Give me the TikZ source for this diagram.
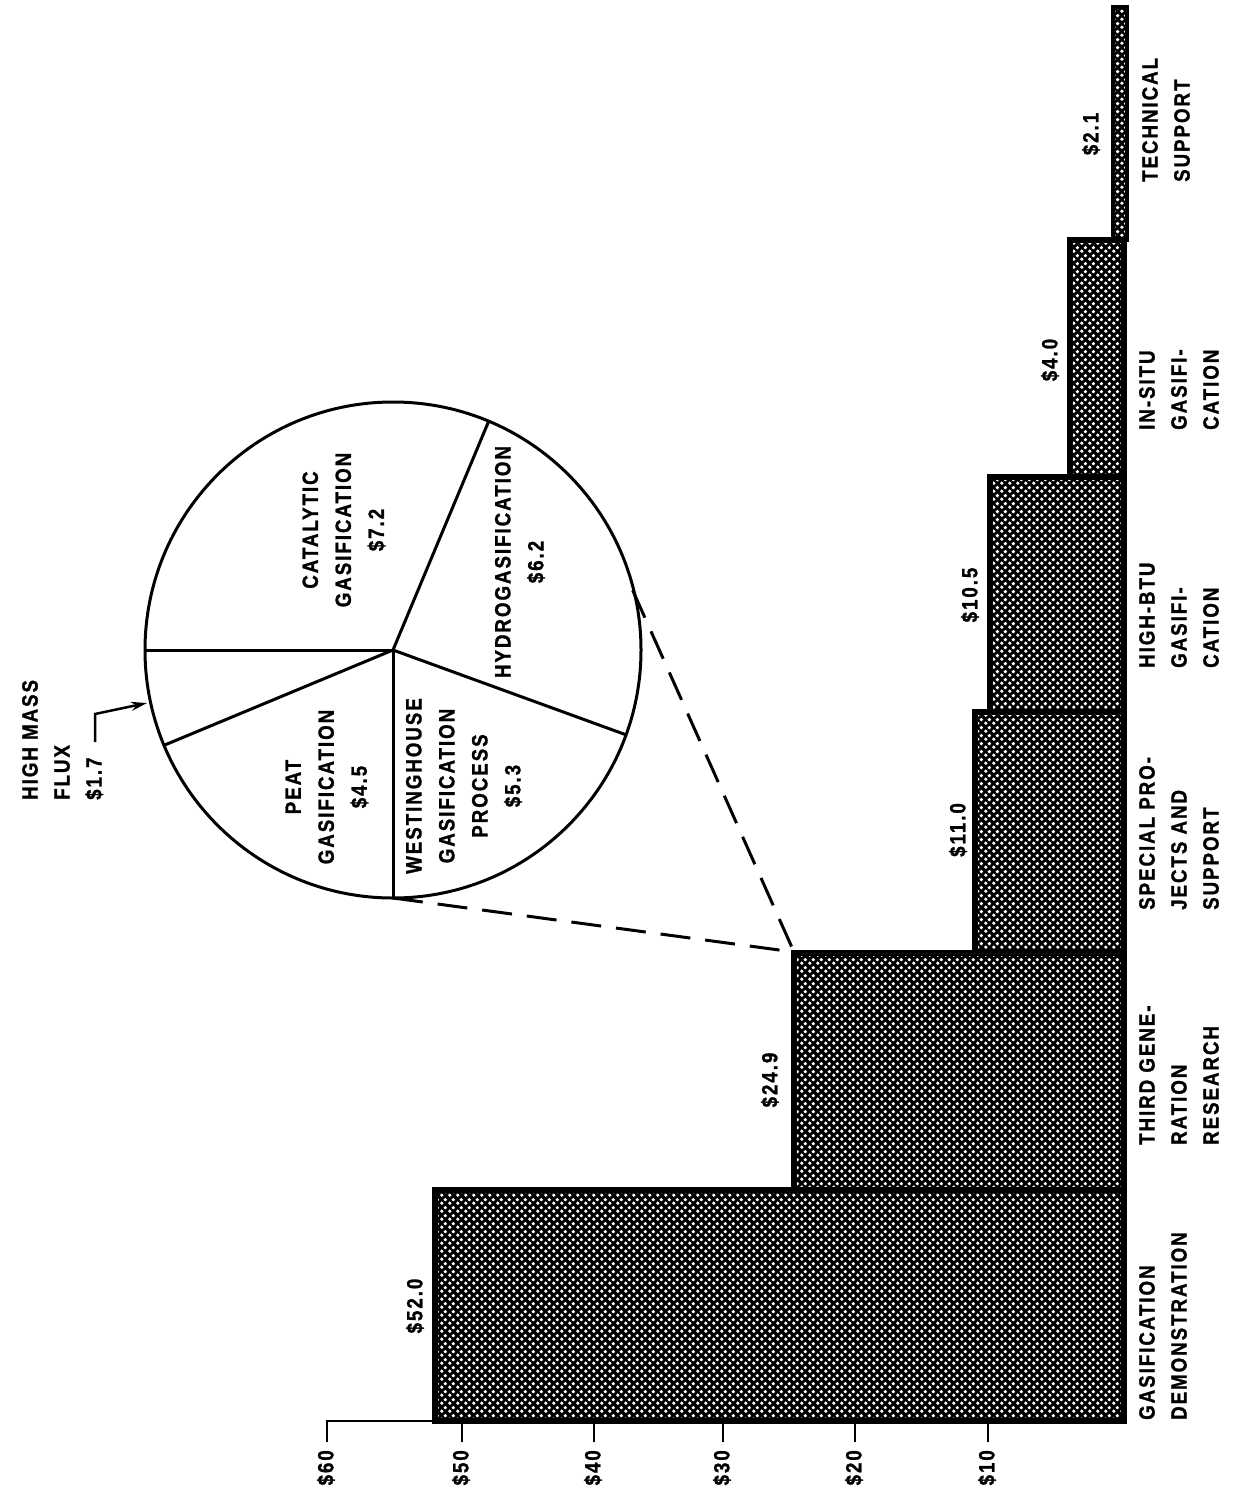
\documentclass[tikz,border=0pt]{standalone}
\usepackage{fontspec}
\newfontfamily\lblfont{Liberation Sans}[FakeStretch=0.85,LetterSpace=9,FakeBold=1.2]
\usetikzlibrary{patterns,arrows.meta}
\pgfdeclarepatternformonly{chk}{\pgfqpoint{0pt}{0pt}}{\pgfqpoint{8pt}{8pt}}{\pgfqpoint{8pt}{8pt}}{%
  \pgfpathcircle{\pgfqpoint{2pt}{2pt}}{2pt}%
  \pgfpathcircle{\pgfqpoint{6pt}{6pt}}{2pt}%
  \pgfusepath{fill}}
\tikzset{
  txt/.style={font=\lblfont\bfseries\fontsize{22}{32}\selectfont, inner sep=0pt, rotate=90},
  cat/.style={txt, align=left, anchor=north west},
  pielbl/.style={txt, align=center, font=\lblfont\bfseries\fontsize{22}{33}\selectfont},
  barbox/.style={draw=black, line width=6pt, preaction={fill=black}, pattern=chk, pattern color=white},
  pieline/.style={line width=3pt},
  dashline/.style={line width=3pt, dash pattern=on 30pt off 15pt},
  axisline/.style={line width=2.5pt},
}
\begin{document}
\begin{tikzpicture}[x=1pt,y=-1pt]
\useasboundingbox (0,0) rectangle (1243,1493);
% bars
\draw[barbox] (435,1190) rectangle (1124,1421);
\draw[barbox] (794,953) rectangle (1124,1190);
\draw[barbox] (975,712) rectangle (1124,953);
\draw[barbox] (990,477) rectangle (1124,712);
\draw[barbox] (1070,240) rectangle (1124,477);
\draw[barbox, line width=4pt] (1113,7) rectangle (1127,240);
% axis
\draw[axisline] (327,1442) -- (327,1421) -- (435,1421);
\foreach \tx in {462,594,723,855,988} \draw[axisline] (\tx,1421) -- (\tx,1442);
\node[txt, anchor=east] (t60) at (326,1450) {\$60};
\node[txt, anchor=east] (t50) at (461,1450) {\$50};
\node[txt, anchor=east] (t40) at (593,1450) {\$40};
\node[txt, anchor=east] (t30) at (722,1450) {\$30};
\node[txt, anchor=east] (t20) at (854,1450) {\$20};
\node[txt, anchor=east] (t10) at (987,1450) {\$10};
% values
\node[txt] (v1) at (415,1306) {\$52.0};
\node[txt] (v2) at (770,1080) {\$24.9};
\node[txt] (v3) at (958,830) {\$11.0};
\node[txt] (v4) at (970,595) {\$10.5};
\node[txt] (v5) at (1050,360) {\$4.0};
\node[txt] (v6) at (1091,134) {\$2.1};
% categories
\node[cat] (c1) at (1139,1420) {GASIFICATION\\DEMONSTRATION};
\node[cat] (c2) at (1139,1145) {THIRD GENE-\\RATION\\RESEARCH};
\node[cat] (c3) at (1139,910) {SPECIAL PRO-\\JECTS AND\\SUPPORT};
\node[cat] (c4) at (1139,668) {HIGH-BTU\\GASIFI-\\CATION};
\node[cat] (c5) at (1139,430) {IN-SITU\\GASIFI-\\CATION};
\node[cat] (c6) at (1142,182) {TECHNICAL\\SUPPORT};
% pie
\coordinate (C) at (393,650);
\draw[pieline] (C) circle[radius=248];
\draw[pieline] (C) -- ++(180:248);
\draw[pieline] (C) -- ++(157.4:248);
\draw[pieline] (C) -- ++(90:248) coordinate (pbot);
\draw[pieline] (C) -- ++(20:248);
\draw[pieline] (C) -- ++(-67.3:248);
\path (C) ++(-14:247) coordinate (ptop);
\coordinate (bc) at (794,952);
\draw[dashline] (pbot) -- (bc);
\draw[dashline] (ptop) -- (bc);
\node[pielbl] (pc) at (344,530) {CATALYTIC\\GASIFICATION\\\$7.2};
\node[pielbl] (ph) at (520,562) {HYDROGASIFICATION\\\$6.2};
\node[pielbl] (pp) at (327,787) {PEAT\\GASIFICATION\\\$4.5};
\node[pielbl] (pw) at (464,786) {WESTINGHOUSE\\GASIFICATION\\PROCESS\\\$5.3};
% high mass flux
\node[cat] (hm) at (22,800) {HIGH MASS\\FLUX\\\$1.7};
\coordinate (hmtip) at (147,703);
\draw[line width=2.5pt, -{Stealth[length=16pt,width=9pt]}] (95,742) -- (95,714) -- (hmtip);
\end{tikzpicture}
\end{document}
